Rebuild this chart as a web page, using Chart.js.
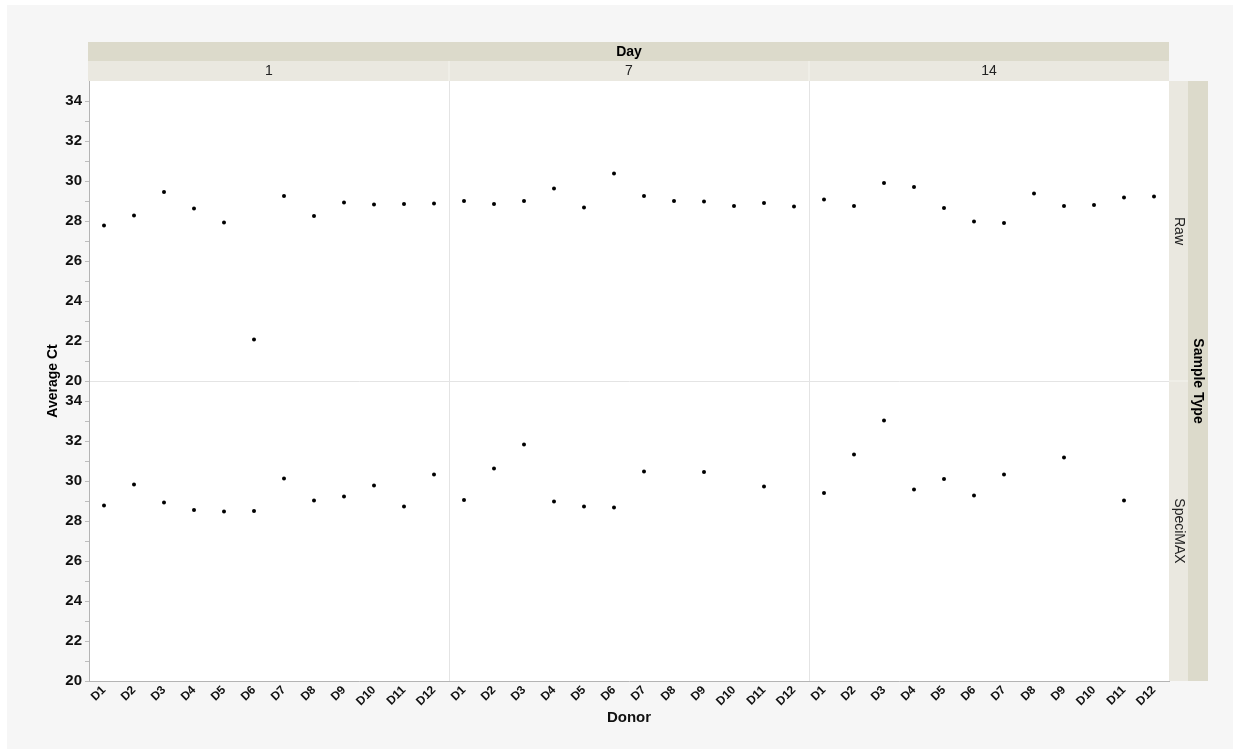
<!DOCTYPE html>
<html>
<head>
<meta charset="utf-8">
<title>Average Ct by Donor, Day and Sample Type</title>
<script src="https://cdn.jsdelivr.net/npm/chart.js@4.4.1/dist/chart.umd.min.js"></script>
<style>
  html, body { margin: 0; padding: 0; background: #ffffff; }
  #frame { position: absolute; left: 7px; top: 5px; width: 1226px; height: 744px; background: #f6f6f6; }
  #wrap { position: absolute; left: 0; top: 0; width: 1238px; height: 749px; }
</style>
</head>
<body>
<div id="frame"></div>
<div id="wrap"><canvas id="chart" width="1238" height="749"></canvas></div>
<script>
// Facet levels
const days = ['1', '7', '14'];
const donors = ['D1', 'D2', 'D3', 'D4', 'D5', 'D6', 'D7', 'D8', 'D9', 'D10', 'D11', 'D12'];
const sampleTypes = ['Raw', 'SpeciMAX'];

// Average Ct, Raw samples (D1..D12)
const rawDay1  = [27.78, 28.28, 29.45, 28.62, 27.92, 22.08, 29.25, 28.25, 28.92, 28.83, 28.85, 28.88];
const rawDay7  = [29.00, 28.85, 29.00, 29.62, 28.67, 30.38, 29.25, 29.00, 28.97, 28.75, 28.90, 28.72];
const rawDay14 = [29.08, 28.75, 29.90, 29.70, 28.65, 27.98, 27.90, 29.37, 28.75, 28.80, 29.17, 29.23];

// Average Ct, SpeciMAX samples (null = no measurement)
const specDay1  = [28.78, 29.82, 28.93, 28.55, 28.48, 28.50, 30.12, 29.03, 29.23, 29.77, 28.73, 30.33];
const specDay7  = [29.05, 30.62, 31.83, 28.97, 28.72, 28.68, 30.47, null, 30.45, null, 29.72, null];
const specDay14 = [29.40, 31.33, 33.03, 29.58, 30.10, 29.27, 30.33, null, 31.17, null, 29.02, null];

// Axis range
const yMin = 20;
const yMax = 35;

const xLabels = days.flatMap(() => donors);
const rawValues = [...rawDay1, ...rawDay7, ...rawDay14];
const specValues = [...specDay1, ...specDay7, ...specDay14];

const STRIP_DARK = '#dcdacb';
const STRIP_LIGHT = '#eae8e0';
const DIVIDER = '#e4e4e4';
const AXIS_LINE = '#b4b4b4';
const FONT = '"Liberation Sans", Arial, sans-serif';

// Draws the white panel background, the facet strips and the shared axis titles
const facetPlugin = {
  id: 'facets',
  beforeDraw(chart) {
    const { ctx, chartArea: a } = chart;
    ctx.save();
    ctx.fillStyle = '#ffffff';
    ctx.fillRect(a.left, a.top, a.right - a.left, a.bottom - a.top);
    ctx.restore();
  },
  afterDraw(chart) {
    const { ctx, chartArea: a } = chart;
    const x = chart.scales.x;
    const yRaw = chart.scales.yRaw;
    ctx.save();
    // top strips: Day title and day levels
    const stripH = 20;
    ctx.fillStyle = STRIP_DARK;
    ctx.fillRect(a.left - 1, a.top - 2 * stripH + 1, a.right - a.left + 1, stripH - 1);
    ctx.fillStyle = STRIP_LIGHT;
    ctx.fillRect(a.left - 1, a.top - stripH, a.right - a.left + 1, stripH);
    ctx.fillStyle = '#000000';
    ctx.textAlign = 'center';
    ctx.textBaseline = 'middle';
    ctx.font = 'bold 14px ' + FONT;
    ctx.fillText('Day', (a.left + a.right) / 2, a.top - 1.5 * stripH + 1);
    ctx.font = '14px ' + FONT;
    ctx.fillStyle = '#222222';
    const n = donors.length;
    days.forEach((d, i) => {
      const l = x.getPixelForValue(i * n) - x.width / xLabels.length / 2;
      const r = x.getPixelForValue(i * n + n - 1) + x.width / xLabels.length / 2;
      if (i > 0) {
        ctx.fillStyle = '#f4f3ee';
        ctx.fillRect(l - 0.5, a.top - stripH, 1, stripH);
        ctx.fillStyle = '#222222';
      }
      ctx.fillText(d, (l + r) / 2, a.top - stripH / 2);
    });
    // right strips: sample type levels and title
    ctx.fillStyle = STRIP_LIGHT;
    ctx.fillRect(a.right, a.top, 19, a.bottom - a.top);
    ctx.fillStyle = STRIP_DARK;
    ctx.fillRect(a.right + 19, a.top, 20, a.bottom - a.top);
    const mid = yRaw.bottom;
    ctx.fillStyle = '#f4f3ee';
    ctx.fillRect(a.right, mid - 0.5, 19, 1);
    const panels = [[a.top, mid], [mid, a.bottom]];
    ctx.fillStyle = '#222222';
    ctx.font = '14px ' + FONT;
    sampleTypes.forEach((s, i) => {
      ctx.save();
      ctx.translate(a.right + 10, (panels[i][0] + panels[i][1]) / 2);
      ctx.rotate(Math.PI / 2);
      ctx.fillText(s, 0, 0);
      ctx.restore();
    });
    ctx.fillStyle = '#000000';
    ctx.font = 'bold 14px ' + FONT;
    ctx.save();
    ctx.translate(a.right + 29, (a.top + a.bottom) / 2);
    ctx.rotate(Math.PI / 2);
    ctx.fillText('Sample Type', 0, 0);
    ctx.restore();
    // shared y-axis title
    ctx.save();
    ctx.translate(53, (a.top + a.bottom) / 2);
    ctx.rotate(-Math.PI / 2);
    ctx.font = 'bold 14px ' + FONT;
    ctx.fillText('Average Ct', 0, 0);
    ctx.restore();
    ctx.restore();
  }
};

function yAxis(gridValue) {
  return {
    type: 'linear',
    position: 'left',
    stack: 'panels',
    stackWeight: 1,
    min: yMin,
    max: yMax,
    afterFit(scale) { scale.width = 89; },
    afterBuildTicks(scale) {
      const t = [];
      for (let v = yMin; v <= yMax; v++) t.push({ value: v });
      scale.ticks = t;
    },
    ticks: {
      color: '#111111',
      font: { family: FONT, size: 15, weight: 'bold' },
      padding: 3,
      autoSkip: false,
      callback: (v) => (v % 2 === 0 && v < yMax ? String(v) : '')
    },
    grid: {
      drawTicks: true,
      tickLength: 4,
      tickColor: (c) => (c.tick && c.tick.value === yMax ? 'rgba(0,0,0,0)' : '#bdbdbd'),
      color: (c) => (c.tick && c.tick.value === gridValue ? DIVIDER : 'rgba(0,0,0,0)'),
      lineWidth: 1
    },
    border: { display: true, color: AXIS_LINE, width: 1 }
  };
}

new Chart(document.getElementById('chart'), {
  type: 'line',
  data: {
    labels: xLabels,
    datasets: [
      {
        label: sampleTypes[0],
        data: rawValues,
        yAxisID: 'yRaw',
        showLine: false,
        pointRadius: 2,
        pointBackgroundColor: '#000000',
        pointBorderColor: '#000000',
        pointBorderWidth: 0
      },
      {
        label: sampleTypes[1],
        data: specValues,
        yAxisID: 'ySpec',
        showLine: false,
        pointRadius: 2,
        pointBackgroundColor: '#000000',
        pointBorderColor: '#000000',
        pointBorderWidth: 0
      }
    ]
  },
  options: {
    responsive: false,
    animation: false,
    layout: { padding: { left: 0, top: 81, right: 69, bottom: 20 } },
    plugins: { legend: { display: false }, tooltip: { enabled: false } },
    scales: {
      x: {
        type: 'category',
        offset: true,
        afterFit(scale) { scale.height = 48; },
        ticks: {
          color: '#111111',
          font: { family: FONT, size: 12, weight: 'bold' },
          minRotation: 45,
          maxRotation: 45,
          autoSkip: false,
          padding: 2
        },
        grid: {
          offset: true,
          drawTicks: false,
          color: (c) => (c.index === 12 || c.index === 24 ? DIVIDER : 'rgba(0,0,0,0)')
        },
        border: { display: true, color: AXIS_LINE, width: 1 },
        title: {
          display: true,
          text: 'Donor',
          color: '#111111',
          font: { family: FONT, size: 15, weight: 'bold' },
          padding: { top: 0, bottom: 2 }
        }
      },
      ySpec: yAxis(null),
      yRaw: yAxis(yMin)
    }
  },
  plugins: [facetPlugin]
});
</script>
</body>
</html>
